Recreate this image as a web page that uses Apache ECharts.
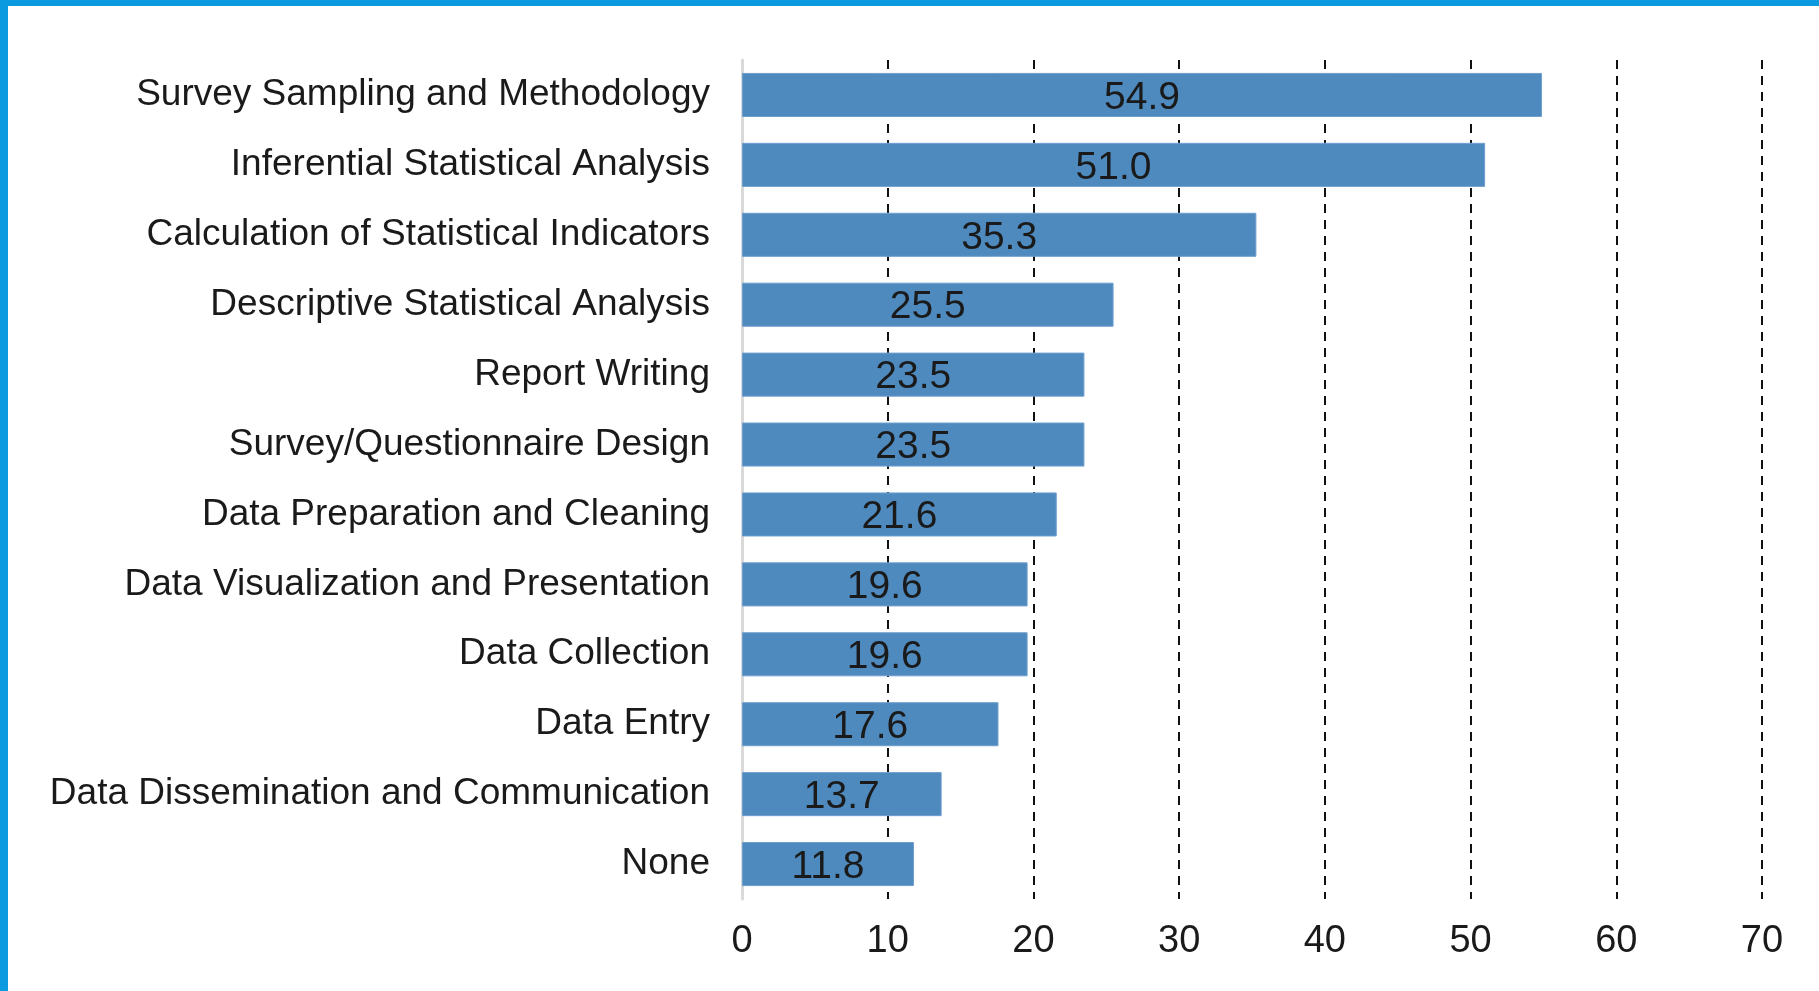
<!DOCTYPE html>
<html>
<head>
<meta charset="utf-8">
<script src="https://cdn.jsdelivr.net/npm/echarts@6/dist/echarts.min.js"></script>
<style>
  html, body { margin: 0; padding: 0; background: #fff; }
  #chart {
    width: 1819px;
    height: 991px;
    box-sizing: border-box;
    border-top: 6px solid #0b9ae0;
    border-left: 8px solid #0b9ae0;
  }
</style>
</head>
<body>
<div id="chart"></div>
<script>
// skills categories, top to bottom
const categories = [
  'Survey Sampling and Methodology',
  'Inferential Statistical Analysis',
  'Calculation of Statistical Indicators',
  'Descriptive Statistical Analysis',
  'Report Writing',
  'Survey/Questionnaire Design',
  'Data Preparation and Cleaning',
  'Data Visualization and Presentation',
  'Data Collection',
  'Data Entry',
  'Data Dissemination and Communication',
  'None'
];
const values = [54.9, 51.0, 35.3, 25.5, 23.5, 23.5, 21.6, 19.6, 19.6, 17.6, 13.7, 11.8];
const xTicks = [0, 10, 20, 30, 40, 50, 60, 70];

const chart = echarts.init(document.getElementById('chart'));
chart.setOption({
  animation: false,
  textStyle: { fontFamily: 'Liberation Sans, Arial, sans-serif' },
  grid: { left: 734, right: 57, top: 54, bottom: 92 },
  xAxis: {
    type: 'value',
    min: xTicks[0],
    max: xTicks[xTicks.length - 1],
    interval: 10,
    axisLine: { show: false },
    axisTick: { show: false },
    axisLabel: { fontSize: 38, color: '#1a1a1a', margin: 24 },
    splitLine: {
      show: true,
      showMinLine: false,
      lineStyle: { color: '#111', width: 2, type: [9, 7] }
    }
  },
  yAxis: {
    type: 'category',
    data: categories,
    inverse: true,
    axisLine: { show: true, lineStyle: { color: '#d9d9d9', width: 3 } },
    axisTick: { show: false },
    axisLabel: { fontSize: 37, color: '#1a1a1a', margin: 32, padding: [8, 0, 0, 0] }
  },
  series: [{
    type: 'bar',
    data: values,
    barWidth: '63%',
    itemStyle: { color: '#4f8abe', borderColor: '#6e9fcf', borderWidth: 1 },
    label: {
      show: true,
      position: 'inside',
      fontSize: 39,
      color: '#1a1a1a',
      offset: [0, 3],
      formatter: p => p.value.toFixed(1)
    }
  }]
});
</script>
</body>
</html>
